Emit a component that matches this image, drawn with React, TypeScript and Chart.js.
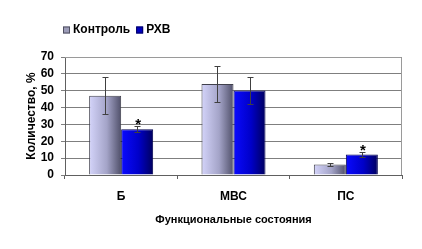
import React, { useEffect, useRef } from "react";
import { Chart, registerables } from "chart.js";

Chart.register(...registerables);

const categories = ["Б", "МВС", "ПС"];
const seriesNames = ["Контроль", "РХВ"];
const controlValues = [47, 54, 6.3];
const controlErrors = [11, 10.5, 1];
const rhvValues = [27.2, 50.2, 12.2];
const rhvErrors = [1.8, 8, 1.4];
const significant = [true, false, true];
const yMin = 0;
const yMax = 70;
const yStep = 10;

const FONT = "'Liberation Sans', Arial, sans-serif";

const gradients: [string, string, string][] = [
  ["#d4d4fa", "#a4a4c8", "#50506a"],
  ["#0a0aff", "#0000c8", "#00005e"],
];

const gradientPlugin = {
  id: "barGradient",
  beforeDatasetsDraw(chart: any) {
    const ctx = chart.ctx;
    chart.data.datasets.forEach((_: any, di: number) => {
      const meta = chart.getDatasetMeta(di);
      meta.data.forEach((el: any) => {
        const x0 = el.x - el.width / 2;
        const x1 = el.x + el.width / 2;
        const g = ctx.createLinearGradient(x0, 0, x1, 0);
        g.addColorStop(0, gradients[di][0]);
        g.addColorStop(0.55, gradients[di][1]);
        g.addColorStop(1, gradients[di][2]);
        el.options = { ...el.options, backgroundColor: g };
      });
    });
  },
};

const errorPlugin = {
  id: "errorBars",
  afterDatasetsDraw(chart: any) {
    const ctx = chart.ctx;
    const y = chart.scales.y;
    const errs = [controlErrors, rhvErrors];
    const vals = [controlValues, rhvValues];
    ctx.save();
    ctx.strokeStyle = "#404040";
    ctx.lineWidth = 1;
    [0, 1].forEach((di) => {
      const meta = chart.getDatasetMeta(di);
      meta.data.forEach((el: any, i: number) => {
        const v = vals[di][i];
        const e = errs[di][i];
        const yt = Math.round(y.getPixelForValue(v + e)) + 0.5;
        const yb = Math.round(y.getPixelForValue(v - e)) + 0.5;
        const x = Math.round(el.x) + 0.5;
        ctx.beginPath();
        ctx.moveTo(x, yt);
        ctx.lineTo(x, yb);
        ctx.moveTo(x - 3, yt);
        ctx.lineTo(x + 3, yt);
        ctx.moveTo(x - 3, yb);
        ctx.lineTo(x + 3, yb);
        ctx.stroke();
      });
    });
    const meta = chart.getDatasetMeta(1);
    ctx.fillStyle = "#000";
    ctx.font = `bold 15px ${FONT}`;
    ctx.textAlign = "center";
    ctx.textBaseline = "alphabetic";
    meta.data.forEach((el: any, i: number) => {
      if (!significant[i]) return;
      const yt = y.getPixelForValue(rhvValues[i] + rhvErrors[i]);
      ctx.fillText("*", el.x + 1, yt + 3);
    });
    const a = chart.chartArea;
    ctx.strokeStyle = "#9a9a9a";
    ctx.beginPath();
    ctx.moveTo(a.left, a.top + 0.5);
    ctx.lineTo(a.right - 0.5, a.top + 0.5);
    ctx.lineTo(a.right - 0.5, a.bottom);
    ctx.stroke();
    ctx.restore();
  },
};

const legendPlugin = {
  id: "customLegend",
  afterDraw(chart: any) {
    const ctx = chart.ctx;
    ctx.save();
    ctx.font = `bold 12px ${FONT}`;
    ctx.textBaseline = "middle";
    ctx.textAlign = "left";
    let x = 63;
    const yc = 30;
    const boxColors = ["#9c9cb8", "#0000c0"];
    const borders = ["#505060", "#000060"];
    seriesNames.forEach((name, i) => {
      ctx.fillStyle = boxColors[i];
      ctx.fillRect(x, yc - 3.5, 7, 7);
      ctx.strokeStyle = borders[i];
      ctx.lineWidth = 1;
      ctx.strokeRect(x + 0.5, yc - 3.5 + 0.5, 6, 6);
      ctx.fillStyle = "#000";
      ctx.fillText(name, x + 10, yc);
      x += 10 + ctx.measureText(name).width + 6;
    });
    ctx.restore();
  },
};

export default function App() {
  const ref = useRef<HTMLCanvasElement | null>(null);
  useEffect(() => {
    if (!ref.current) return;
    const chart = new Chart(ref.current, {
      type: "bar",
      data: {
        labels: categories,
        datasets: [
          {
            label: seriesNames[0],
            data: controlValues,
            backgroundColor: "#a0a0c0",
            borderColor: "#40404c",
            borderWidth: 1,
          },
          {
            label: seriesNames[1],
            data: rhvValues,
            backgroundColor: "#0000c0",
            borderColor: "#000050",
            borderWidth: 1,
          },
        ],
      },
      options: {
        responsive: false,
        animation: false,
        events: [],
        layout: { padding: { top: 57, right: 20, left: 0, bottom: 0 } },
        datasets: {
          bar: { categoryPercentage: 0.57, barPercentage: 1 },
        },
        plugins: {
          legend: { display: false },
          tooltip: { enabled: false },
          title: { display: false },
        },
        scales: {
          x: {
            grid: {
              offset: true,
              drawOnChartArea: false,
              drawTicks: true,
              tickLength: 4,
              color: "#606060",
            },
            border: { display: true, color: "#606060" },
            ticks: {
              color: "#000",
              font: { family: FONT, size: 12, weight: "bold" },
              padding: 10,
            },
            title: {
              display: true,
              text: "Функциональные состояния",
              color: "#000",
              font: { family: FONT, size: 11, weight: "bold" },
              padding: { top: 0, bottom: 22 },
            },
            afterFit: (s: any) => {
              s.height = 74;
            },
          },
          y: {
            min: yMin,
            max: yMax,
            grid: {
              color: "#7f7f7f",
              lineWidth: 1,
              drawTicks: true,
              tickLength: 4,
            },
            border: { display: true, color: "#606060" },
            ticks: {
              stepSize: yStep,
              autoSkip: false,
              color: "#000",
              font: { family: FONT, size: 12, weight: "bold" },
              padding: 7,
            },
            title: {
              display: true,
              text: "Количество, %",
              color: "#000",
              font: { family: FONT, size: 12, weight: "bold" },
              padding: { top: 24, bottom: 0 },
            },
            afterFit: (s: any) => {
              s.width = 65;
            },
          },
        },
      },
      plugins: [gradientPlugin, errorPlugin, legendPlugin],
    });
    return () => chart.destroy();
  }, []);
  return (
    <div style={{ position: "absolute", left: 0, top: 0, width: 422, height: 249, background: "#fff" }}>
      <canvas ref={ref} width={422} height={249} />
    </div>
  );
}
